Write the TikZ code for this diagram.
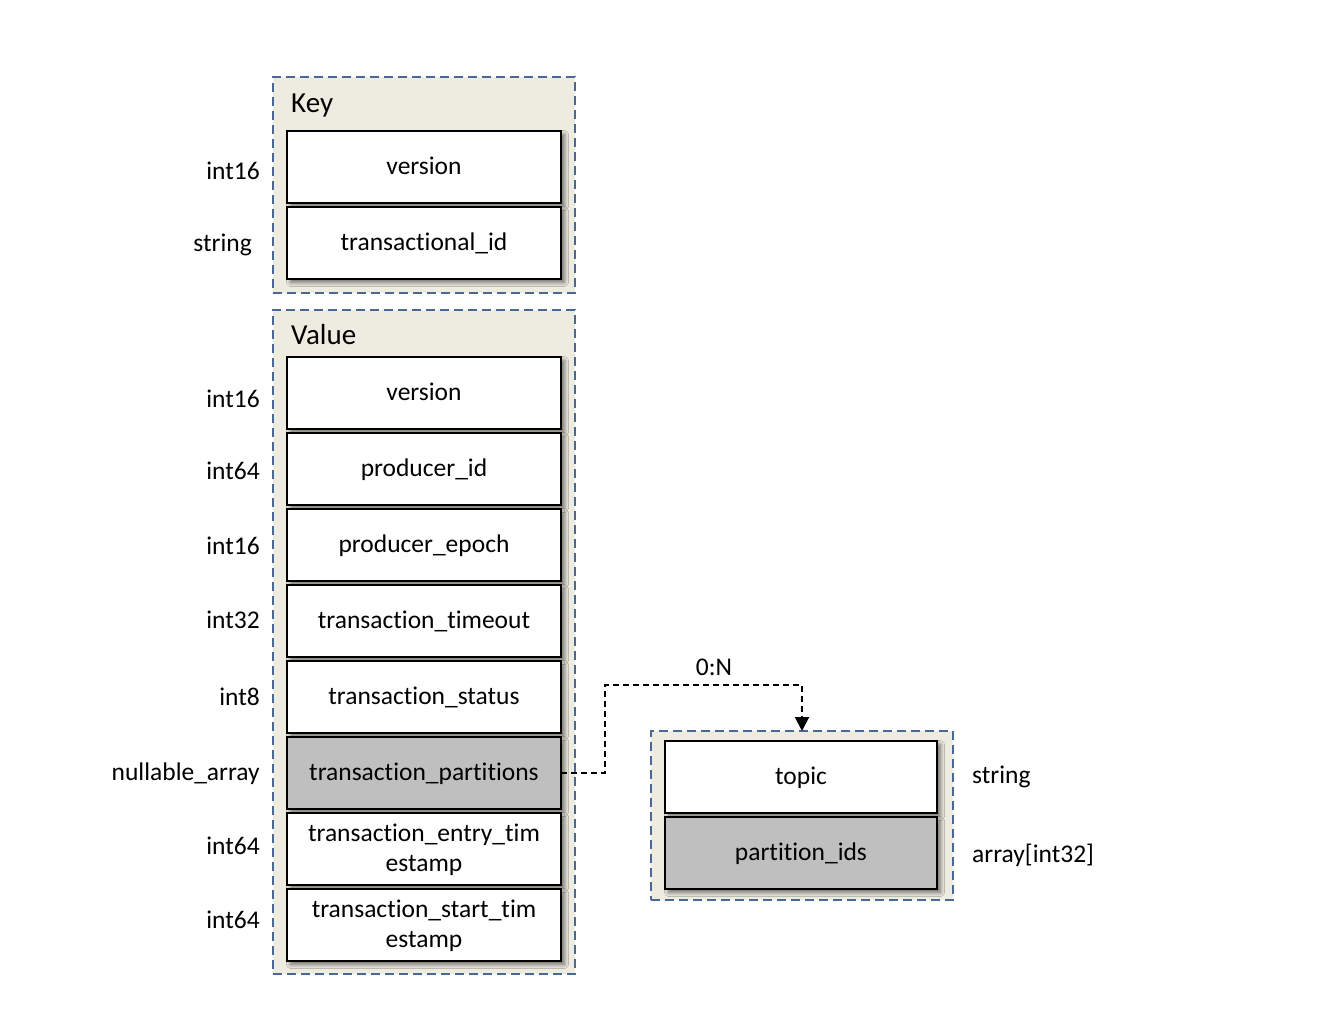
\documentclass[tikz,border=0pt]{standalone}
\usepackage{fontspec}
\setmainfont{Carlito}[Ligatures={NoCommon}]
\usetikzlibrary{arrows.meta,shadows.blur}
\definecolor{beige}{HTML}{EEECE1}
\definecolor{dashblue}{HTML}{4A6894}
\definecolor{grayfill}{HTML}{BFBFBF}
\tikzset{
  container/.style={draw=dashblue, fill=beige, line width=2.2pt, dash pattern=on 9pt off 5pt, outer sep=0pt, inner sep=0pt},
  field/.style={draw=black, fill=white, line width=2pt, minimum width=274pt, minimum height=72pt, inner sep=0pt, outer sep=0pt, align=center,
    font=\fontsize{25.5}{30}\selectfont, text depth=2pt,
    blur shadow={shadow xshift=3.5pt, shadow yshift=-3.5pt, shadow blur steps=8, shadow blur radius=4pt, shadow opacity=55}},
  grayfield/.style={field, fill=grayfill},
  typelab/.style={anchor=east, font=\fontsize{25.5}{30}\selectfont, inner sep=0pt},
  typelabr/.style={anchor=west, font=\fontsize{25.5}{30}\selectfont, inner sep=0pt},
  title/.style={anchor=west, font=\fontsize{29}{34}\selectfont, inner sep=0pt},
  conn/.style={draw=black, line width=2pt, dash pattern=on 6pt off 4pt, -{Triangle[width=14pt,length=14pt]}}
}
\begin{document}
\begin{tikzpicture}[x=1pt,y=-1pt]
\useasboundingbox (0,0) rectangle (1328,1016);
% containers
\node[container, minimum width=302pt, minimum height=216pt] (keyc) at (424,185) {};
\node[container, minimum width=302pt, minimum height=664pt] (valc) at (424,642) {};
\node[container, minimum width=302pt, minimum height=169pt] (rc) at (802,815.5) {};
\node[title] (keyt) at (291,106) {Key};
\node[title] (valt) at (291,335) {Value};
% key fields
\node[field] (kver) at (424,167) {version};
\node[field] (ktid) at (424,243) {transactional\_id};
% value fields
\node[field] (vver) at (424,393) {version};
\node[field] (vpid) at (424,469) {producer\_id};
\node[field] (vpep) at (424,545) {producer\_epoch};
\node[field] (vtto) at (424,621) {transaction\_timeout};
\node[field] (vtst) at (424,697) {transaction\_status};
\node[grayfield] (tp) at (424,773) {transaction\_partitions};
\node[field] (vtet) at (424,849) {transaction\_entry\_tim\\estamp};
\node[field] (vtsa) at (424,925) {transaction\_start\_tim\\estamp};
% right fields
\node[field, minimum width=272pt] (topic) at (801,777) {topic};
\node[grayfield, minimum width=272pt] (pids) at (801,853) {partition\_ids};
% type labels
\node[typelab] (l1) at (260,171) {int16};
\node[typelab] (l2) at (252,245) {string};
\node[typelab] (l3) at (260,399) {int16};
\node[typelab] (l4) at (260,471) {int64};
\node[typelab] (l5) at (260,546) {int16};
\node[typelab] (l6) at (260,620) {int32};
\node[typelab] (l7) at (260,697) {int8};
\node[typelab] (l8) at (260,774) {nullable\_array};
\node[typelab] (l9) at (260,846) {int64};
\node[typelab] (l10) at (260,920) {int64};
\node[typelabr] (r1) at (972,777) {string};
\node[typelabr] (r2) at (972,855) {array[int32]};
% connector
\coordinate (bend) at (605,685);
\draw[conn] (tp.east) -| (bend) -| (rc.north);
\node[font=\fontsize{25.5}{30}\selectfont] (card) at (714,667) {0:N};
\end{tikzpicture}
\end{document}
